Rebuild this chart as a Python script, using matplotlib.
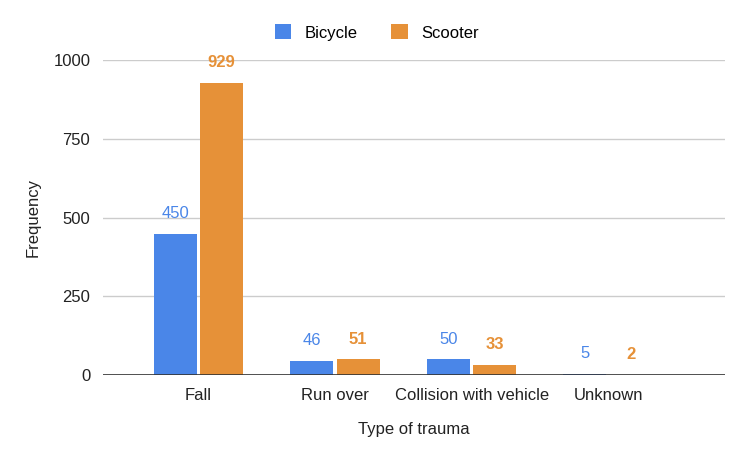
import matplotlib.pyplot as plt
import numpy as np

categories = ["Fall", "Run over", "Collision with vehicle", "Unknown"]
bicycle = [450, 46, 50, 5]
scooter = [929, 51, 33, 2]
yticks = [0, 250, 500, 750, 1000]

blue = "#4a86e8"
orange = "#e69138"

plt.rcParams['font.family'] = ['Liberation Sans', 'DejaVu Sans']

fig = plt.figure(figsize=(7.5, 4.57), dpi=100)
ax = fig.add_axes([0.137, 0.179, 0.83, 0.689])

x = np.arange(len(categories))
w = 0.315
off = 0.17
ax.bar(x - off, bicycle, w, color=blue, label="Bicycle", zorder=3)
ax.bar(x + off, scooter, w, color=orange, label="Scooter", zorder=3)

for xi, v in zip(x, bicycle):
    ax.text(xi - off, v + 40, str(v), ha="center", va="bottom", color=blue, fontsize=12)
for xi, v in zip(x, scooter):
    ax.text(xi + off, v + 40, str(v), ha="center", va="bottom", color=orange,
            fontsize=12, fontweight="bold")

ax.set_xlim(-0.70, 3.857)
ax.set_ylim(0, 1000)
ax.set_yticks(yticks)
ax.set_yticklabels([str(t) for t in yticks])
ax.set_xticks(x)
ax.set_xticklabels(categories)
ax.tick_params(axis="both", length=0, labelsize=12, colors="#222222", pad=9)
ax.tick_params(axis="x", pad=9)
ax.yaxis.grid(True, color="#cccccc", linewidth=1, zorder=0)
ax.axhline(0, color="#333333", linewidth=1.2, zorder=4)
for s in ax.spines.values():
    s.set_visible(False)

ax.set_ylabel("Frequency", fontsize=12, color="#222222", labelpad=9)
ax.set_xlabel("Type of trauma", fontsize=12, color="#222222", labelpad=14)

ax.legend(loc="lower center", bbox_to_anchor=(0.44, 1.015), ncol=2, frameon=False,
          fontsize=12, handlelength=1, handleheight=1, columnspacing=2.0, handletextpad=0.8)

fig.savefig("out.png", dpi=100)
